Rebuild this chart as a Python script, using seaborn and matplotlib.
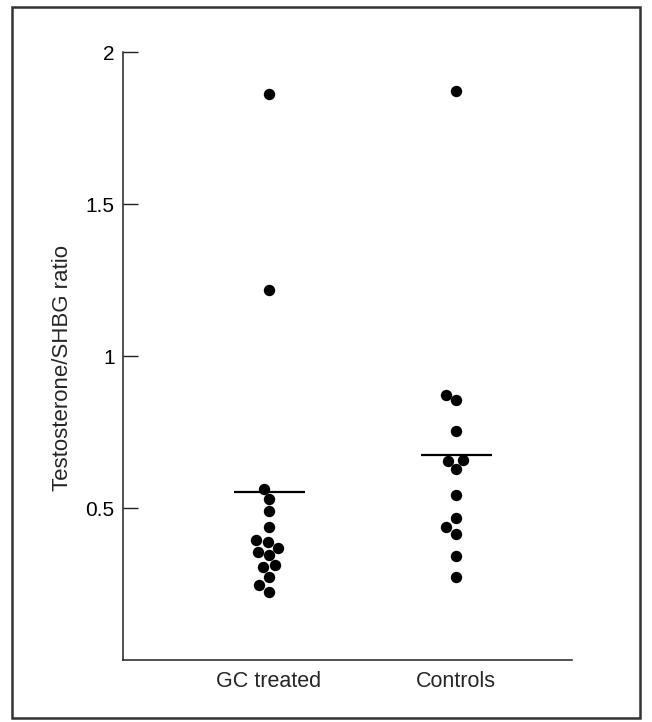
import matplotlib
matplotlib.use("Agg")
import matplotlib.pyplot as plt
import seaborn as sns
import pandas as pd
from matplotlib.patches import Rectangle

# ---- data ----
groups = ["GC treated", "Controls"]
gc_treated = [1.863, 1.216, 0.563, 0.529, 0.489, 0.438, 0.394, 0.389, 0.369,
              0.356, 0.344, 0.311, 0.306, 0.273, 0.246, 0.224]
controls = [1.873, 0.873, 0.854, 0.754, 0.658, 0.656, 0.628, 0.542, 0.468,
            0.438, 0.416, 0.343, 0.273]
group_lines = [0.552, 0.673]          # horizontal bars drawn in the figure
y_ticks = [0.5, 1, 1.5, 2]
y_tick_labels = ["0.5", "1", "1.5", "2"]
y_label = "Testosterone/SHBG ratio"

df = pd.DataFrame({
    "group": [groups[0]] * len(gc_treated) + [groups[1]] * len(controls),
    "value": gc_treated + controls,
})

sns.set_style("ticks")
plt.rcParams["font.family"] = ["Liberation Sans", "DejaVu Sans"]

fig = plt.figure(figsize=(6.52, 7.22), dpi=100)
ax = fig.add_axes([123 / 652, 1 - 660 / 722, (572 - 123) / 652, (660 - 52) / 722])

sns.swarmplot(data=df, x="group", y="value", order=groups, color="black",
              size=8.2, ax=ax, zorder=3)

for i, v in enumerate(group_lines):
    ax.hlines(v, i - 0.19, i + 0.19, color="black", linewidth=1.6, zorder=2)

ax.set_xlim(-0.781, 1.620)
ax.set_ylim(0, 2)
ax.set_yticks(y_ticks)
ax.set_yticklabels(y_tick_labels)
ax.set_xlabel("")
ax.set_ylabel(y_label, fontsize=16)
ax.yaxis.set_label_coords(-0.111, 0.48)

ax.tick_params(axis="y", direction="in", length=10.5, width=1, pad=6,
               labelsize=15, colors="#222222", labelcolor="black")
ax.tick_params(axis="x", length=0, pad=8, labelsize=15.5)

sns.despine(ax=ax)
for sp in ("left", "bottom"):
    ax.spines[sp].set_linewidth(1.1)
    ax.spines[sp].set_color("#222222")
ax.spines["left"].set_bounds(0, 2)

fig.patches.append(Rectangle((12 / 652, 1 - 718 / 722), (640 - 12) / 652,
                             (718 - 7) / 722, transform=fig.transFigure,
                             fill=False, edgecolor="#333333", linewidth=1.8))

fig.savefig("out.png", dpi=100, facecolor="white")
